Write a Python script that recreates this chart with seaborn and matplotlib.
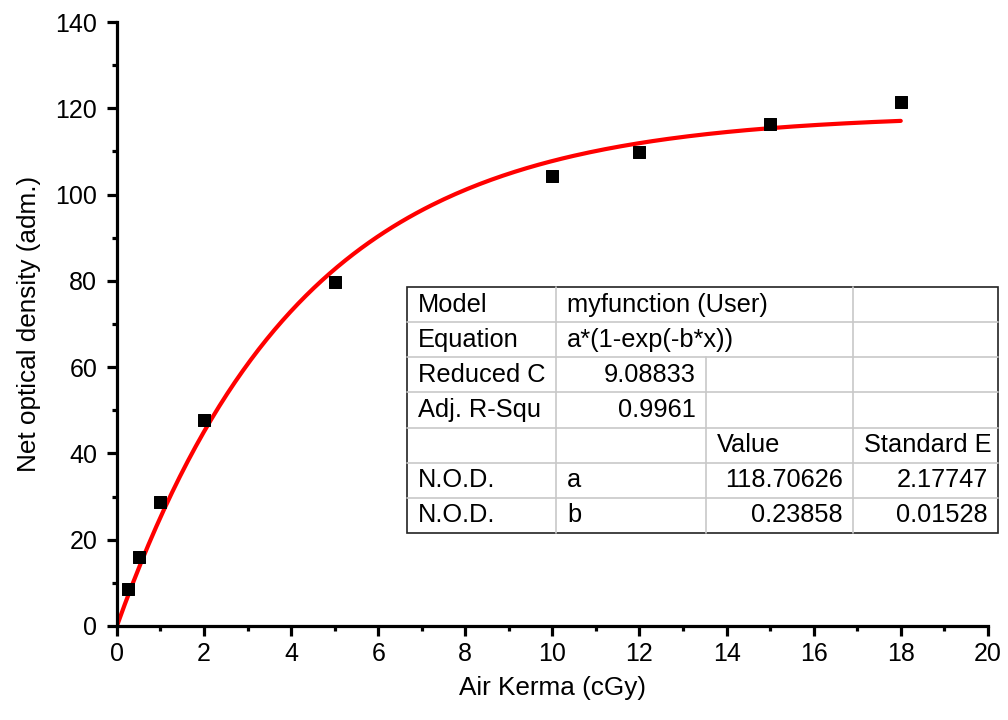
import numpy as np
import pandas as pd
import matplotlib.pyplot as plt
import seaborn as sns
from matplotlib.lines import Line2D
from matplotlib.ticker import MultipleLocator

# datos medidos
kerma = [0.25, 0.5, 1, 2, 5, 10, 12, 15, 18]
nod = [8.6, 16.0, 28.7, 47.7, 79.7, 104.3, 109.9, 116.4, 121.5]

# parametros del ajuste a*(1-exp(-b*x))
a_fit = 118.70626
b_fit = 0.23858

# contenido de la tabla
table_rows = [
    ["Model", "myfunction (User)", "", ""],
    ["Equation", "a*(1-exp(-b*x))", "", ""],
    ["Reduced C", "9.08833", "", ""],
    ["Adj. R-Squ", "0.9961", "", ""],
    ["", "", "Value", "Standard E"],
    ["N.O.D.", "a", "118.70626", "2.17747"],
    ["N.O.D.", "b", "0.23858", "0.01528"],
]

sns.set_style("ticks", {'axes.edgecolor': 'black', 'xtick.color': 'black',
                        'ytick.color': 'black', 'text.color': 'black',
                        'axes.labelcolor': 'black'})
plt.rcParams['font.family'] = ['Liberation Sans', 'DejaVu Sans']

df = pd.DataFrame({'Air Kerma (cGy)': kerma, 'Net optical density (adm.)': nod})
xs = np.linspace(0, 18, 200)
df_fit = pd.DataFrame({'x': xs, 'y': a_fit * (1 - np.exp(-b_fit * xs))})

fig = plt.figure(figsize=(10.08, 7.2), dpi=100)
ax = fig.add_axes([0.116, 0.1306, 0.864, 0.8388])

sns.lineplot(data=df_fit, x='x', y='y', color='#ff0000', linewidth=3, ax=ax, zorder=2)
sns.scatterplot(data=df, x='Air Kerma (cGy)', y='Net optical density (adm.)',
                marker='s', s=80, color='black', edgecolor='black', ax=ax, zorder=3)

ax.set_xlim(0, 20)
ax.set_ylim(0, 140)
ax.xaxis.set_major_locator(MultipleLocator(2))
ax.xaxis.set_minor_locator(MultipleLocator(1))
ax.yaxis.set_major_locator(MultipleLocator(20))
ax.yaxis.set_minor_locator(MultipleLocator(10))
ax.tick_params(which='major', length=7.2, width=2.3, labelsize=18, colors='black')
ax.tick_params(which='minor', length=3.6, width=2.3, colors='black')
ax.tick_params(axis='y', which='major', pad=7)
ax.tick_params(axis='x', which='major', pad=4.5)
for side in ['left', 'bottom']:
    ax.spines[side].set_linewidth(2.3)
    ax.spines[side].set_color('black')
sns.despine(ax=ax)
ax.set_xlabel('Air Kerma (cGy)', fontsize=18.8, labelpad=7, color='black')
ax.set_ylabel('Net optical density (adm.)', fontsize=18.8, labelpad=10, color='black')

# tabla de resultados del ajuste (coordenadas en pixeles)
W, H = 1008, 720
cols = [407, 556, 706, 853, 998]
top, bot = 287, 533
rh = (bot - top) / len(table_rows)

def fx(p):
    return p / W

def fy(p):
    return (H - p) / H

# fondo blanco
fig.patches.append(plt.Rectangle((fx(cols[0]), fy(bot)), fx(cols[-1] - cols[0]), (bot - top) / H,
                                 transform=fig.transFigure, facecolor='white',
                                 edgecolor='#222222', linewidth=1.2, zorder=5))
for i in range(1, len(table_rows)):
    yy = fy(top + i * rh)
    fig.add_artist(Line2D([fx(cols[0]), fx(cols[-1])], [yy, yy], color='#c8c8c8', lw=1.2, zorder=6))
for j in [1, 3]:
    fig.add_artist(Line2D([fx(cols[j]), fx(cols[j])], [fy(top), fy(bot)], color='#c8c8c8', lw=1.2, zorder=6))
fig.add_artist(Line2D([fx(cols[2]), fx(cols[2])], [fy(top + 2 * rh), fy(bot)], color='#c8c8c8', lw=1.2, zorder=6))

for i, row in enumerate(table_rows):
    yc = fy(top + (i + 0.5) * rh)
    for j, txt in enumerate(row):
        if not txt:
            continue
        numeric = txt[0].isdigit()
        if numeric:
            fig.text(fx(cols[j + 1] - 10), yc, txt, ha='right', va='center', fontsize=18.3, zorder=7)
        else:
            fig.text(fx(cols[j] + 11), yc, txt, ha='left', va='center', fontsize=18.3, zorder=7)

fig.savefig('out.png', dpi=100)
